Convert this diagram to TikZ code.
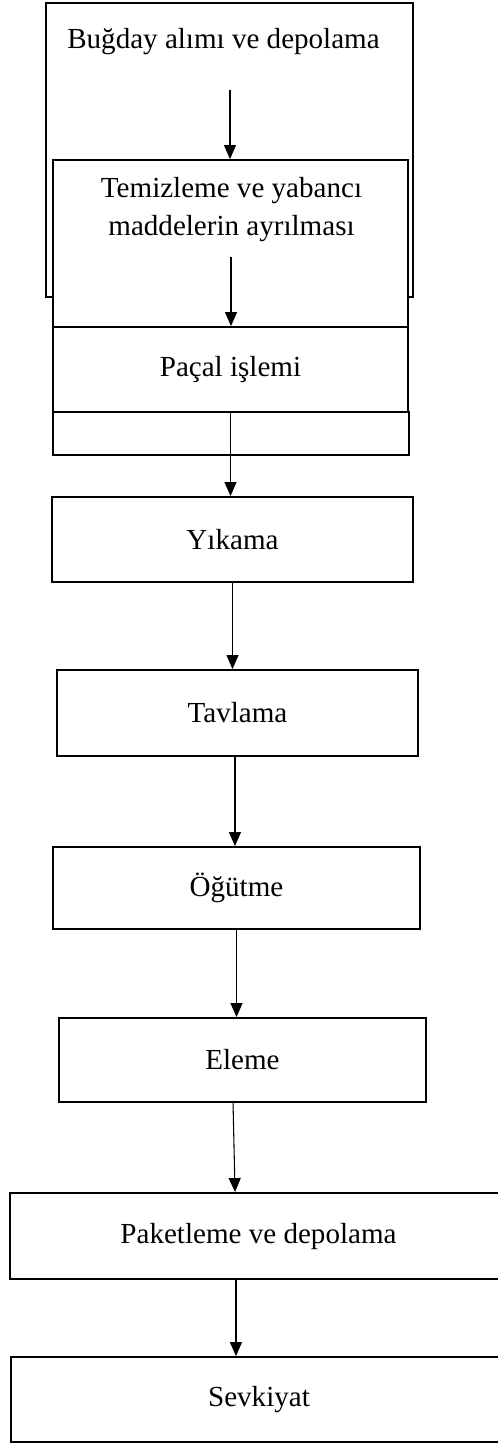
\documentclass[tikz,border=0pt]{standalone}
\usepackage{fontspec}
\setmainfont{Liberation Serif}
\usetikzlibrary{arrows.meta}

\begin{document}
\begin{tikzpicture}[x=0.75pt,y=-0.75pt,
    kutu/.style={draw,line width=1.4pt,fill=white,inner sep=0pt,font=\fontsize{21.8}{28}\selectfont},
    yazi/.style={inner sep=0pt,align=center,font=\fontsize{21.8}{28}\selectfont},
    ok/.style={line width=0.8pt,-{Triangle[length=10.5pt,width=9pt]}}]
    \useasboundingbox (0,0) rectangle (498,1443);
    \clip (0,0) rectangle (498,1443);
    \node[kutu,minimum width=275.25pt,minimum height=220.5pt] (bugday) at (229.5,150) {};
    \node[kutu,minimum width=266.25pt,minimum height=125.25pt] (temiz) at (230.5,243.5) {};
    \node[kutu,minimum width=266.25pt,minimum height=63.75pt] (pacal) at (230.5,369.5) {Paçal işlemi};
    \node[kutu,minimum width=267pt,minimum height=32.25pt] (bos) at (231,433.5) {};
    \node[kutu,minimum width=270.75pt,minimum height=63.75pt] (yikama) at (232.5,539.5) {Yıkama};
    \node[kutu,minimum width=270.75pt,minimum height=64.5pt] (tavlama) at (237.5,713) {Tavlama};
    \node[kutu,minimum width=275.25pt,minimum height=61.5pt] (ogutme) at (236.5,888) {Öğütme};
    \node[kutu,minimum width=275.25pt,minimum height=63pt] (eleme) at (242.5,1060) {Eleme};
    \node[kutu,minimum width=372.75pt,minimum height=64.5pt] (paket) at (258.5,1236) {Paketleme ve depolama};
    \node[kutu,minimum width=372pt,minimum height=63.75pt] (sevk) at (259,1399.5) {Sevkiyat};
    \node[yazi,anchor=base] (bugdayt) at (223.5,48) {Buğday alımı ve depolama};
    \node[yazi] (temizt) at (231.5,209.5) {Temizleme ve yabancı\\maddelerin ayrılması};
    \coordinate (c1) at (230,90);
    \coordinate (c2) at (231,257);
    \draw[ok] (c1) -- (c1 |- temiz.north);
    \draw[ok] (c2) -- (c2 |- pacal.north);
    \draw[ok] (pacal.south) -- (pacal.south |- yikama.north);
    \draw[ok] (yikama.south) -- (yikama.south |- tavlama.north);
    \draw[ok] ([xshift=-1.9pt]tavlama.south) coordinate (c5) -- (c5 |- ogutme.north);
    \draw[ok] (ogutme.south) -- (ogutme.south |- eleme.north);
    \draw[ok] ([xshift=-7.1pt]eleme.south) -- ([xshift=-17.6pt]paket.north);
    \draw[ok] ([xshift=-16.9pt]paket.south) coordinate (c8) -- (c8 |- sevk.north);
\end{tikzpicture}
\end{document}
